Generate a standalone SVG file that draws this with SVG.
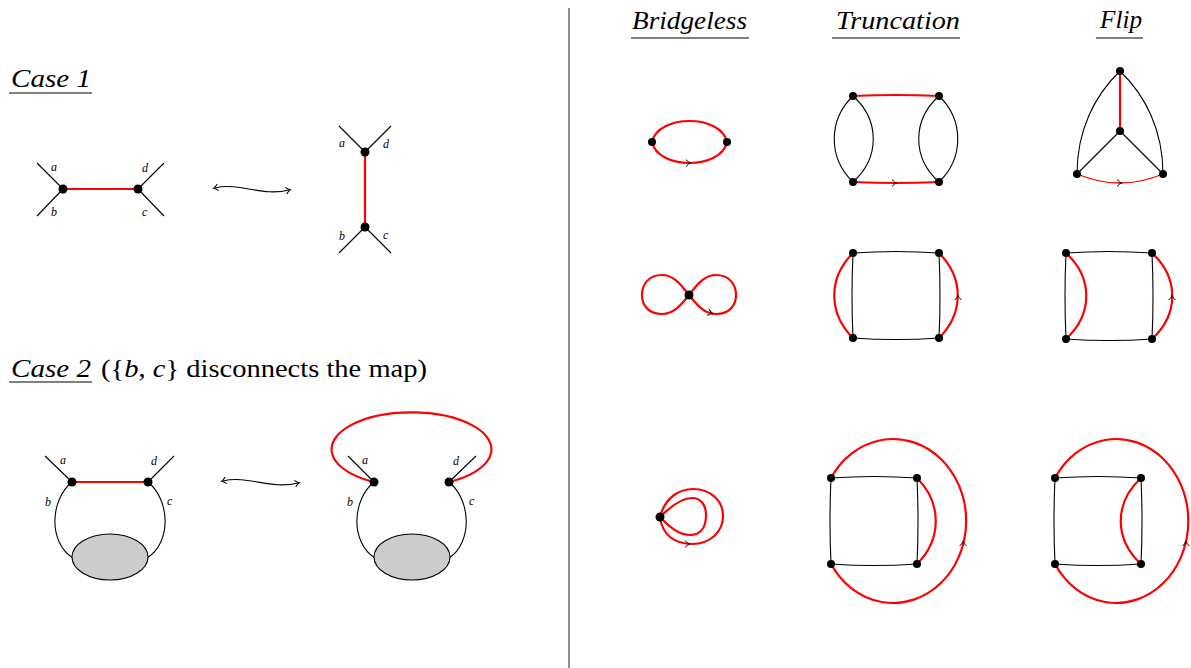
<svg xmlns="http://www.w3.org/2000/svg" xmlns:xlink="http://www.w3.org/1999/xlink" width="1191" height="668" viewBox="0 0 1191 668">
<style>
.k{stroke:#000;stroke-width:1.1;fill:none}
.r{stroke:#f00;stroke-width:2.2;fill:none}
.rt{stroke:#f00;stroke-width:1.3;fill:none}
.v{fill:#000}
text{font-family:'Liberation Serif','DejaVu Serif',serif;fill:#000}
.lbl{font-style:italic;font-size:12px}
.ttl{font-style:italic;font-size:26px}
.rm{font-size:25px}
.ul{stroke:#000;stroke-width:1.1}
.blob{fill:#cccccc;stroke:#000;stroke-width:1.1}
</style>
<defs>
<path id="chev" d="M-3,-3.4 Q-0.8,-0.9 1.6,0 Q-0.8,0.9 -3,3.4" style="stroke:#000;stroke-width:1;fill:none"/>
</defs>
<rect width="1191" height="668" fill="#fff"/>
<line x1="569" y1="8" x2="569" y2="668" style="stroke:#333;stroke-width:1.1"/>

<g id="titles">
<text class="ttl" x="11" y="87" textLength="80" lengthAdjust="spacingAndGlyphs">Case 1</text>
<line class="ul" x1="9" y1="93" x2="92" y2="93"/>
<text class="ttl" x="11" y="377" textLength="80" lengthAdjust="spacingAndGlyphs">Case 2</text>
<line class="ul" x1="9" y1="382" x2="92" y2="382"/>
<text class="rm" x="101" y="377" textLength="326" lengthAdjust="spacingAndGlyphs">({<tspan font-style="italic">b</tspan>, <tspan font-style="italic">c</tspan>} disconnects the map)</text>
<text class="ttl" x="632" y="29" textLength="115" lengthAdjust="spacingAndGlyphs">Bridgeless</text>
<line class="ul" x1="631" y1="38" x2="749" y2="38"/>
<text class="ttl" x="836" y="29" textLength="124" lengthAdjust="spacingAndGlyphs">Truncation</text>
<line class="ul" x1="832" y1="38" x2="960" y2="38"/>
<text class="ttl" x="1100" y="28" textLength="42" lengthAdjust="spacingAndGlyphs">Flip</text>
<line class="ul" x1="1096" y1="38" x2="1143" y2="38"/>
</g>

<g id="connectors">
<path class="k" d="M215,188 C240,182 262,197 289,190"/>
<use xlink:href="#chev" transform="translate(215,188) rotate(167)"/>
<use xlink:href="#chev" transform="translate(289,190) rotate(-12)"/>
<path class="k" d="M223,481 C248,475 270,490 298,483"/>
<use xlink:href="#chev" transform="translate(223,481) rotate(167)"/>
<use xlink:href="#chev" transform="translate(298,483) rotate(-12)"/>
</g>

<g id="case1-left">
<line class="k" x1="37" y1="163" x2="63" y2="189"/>
<line class="k" x1="37" y1="216" x2="63" y2="189"/>
<line class="k" x1="164" y1="163" x2="138" y2="189"/>
<line class="k" x1="164" y1="216" x2="138" y2="189"/>
<line class="r" x1="63" y1="189" x2="138" y2="189"/>
<circle class="v" cx="63" cy="189" r="4.5"/>
<circle class="v" cx="138" cy="189" r="4.5"/>
<text class="lbl" x="51" y="171">a</text>
<text class="lbl" x="51" y="216">b</text>
<text class="lbl" x="142" y="172">d</text>
<text class="lbl" x="142" y="216">c</text>
</g>

<g id="case1-right">
<line class="k" x1="339" y1="126" x2="365" y2="152"/>
<line class="k" x1="391" y1="126" x2="365" y2="152"/>
<line class="k" x1="339" y1="253" x2="365" y2="227"/>
<line class="k" x1="391" y1="253" x2="365" y2="227"/>
<line class="r" x1="365" y1="152" x2="365" y2="227"/>
<circle class="v" cx="365" cy="152" r="4.5"/>
<circle class="v" cx="365" cy="227" r="4.5"/>
<text class="lbl" x="339" y="147">a</text>
<text class="lbl" x="383" y="148">d</text>
<text class="lbl" x="339" y="240">b</text>
<text class="lbl" x="383" y="239">c</text>
</g>

<g id="case2-left">
<line class="k" x1="45" y1="456" x2="72" y2="482"/>
<line class="k" x1="174" y1="456" x2="148" y2="482"/>
<path class="k" d="M72,482 C50,500 48,542 73,558"/>
<path class="k" d="M148,482 C170,500 172,542 147,558"/>
<ellipse class="blob" cx="110" cy="557" rx="38" ry="23"/>
<line class="r" x1="72" y1="482" x2="148" y2="482"/>
<circle class="v" cx="72" cy="482" r="4.5"/>
<circle class="v" cx="148" cy="482" r="4.5"/>
<text class="lbl" x="60" y="464">a</text>
<text class="lbl" x="151" y="465">d</text>
<text class="lbl" x="45" y="506">b</text>
<text class="lbl" x="167" y="505">c</text>
</g>

<g id="case2-right">
<line class="k" x1="348" y1="456" x2="374" y2="482"/>
<line class="k" x1="476" y1="456" x2="449" y2="482"/>
<path class="k" d="M374,482 C352,500 350,542 375,558"/>
<path class="k" d="M449,482 C471,500 473,542 449,558"/>
<ellipse class="blob" cx="412" cy="557" rx="38" ry="23"/>
<path class="r" d="M374,482 A80,37 0 1 1 449,482"/>
<circle class="v" cx="374" cy="482" r="4.5"/>
<circle class="v" cx="449" cy="482" r="4.5"/>
<text class="lbl" x="362" y="464">a</text>
<text class="lbl" x="453" y="465">d</text>
<text class="lbl" x="347" y="506">b</text>
<text class="lbl" x="469" y="505">c</text>
</g>

<g id="bridgeless-1">
<path class="r" d="M652,142 C658,114 721,114 727,142"/>
<path class="r" d="M652,142 C658,170 721,170 727,142"/>
<use xlink:href="#chev" transform="translate(689,163)"/>
<circle class="v" cx="652" cy="142" r="4"/>
<circle class="v" cx="727" cy="142" r="4"/>
</g>

<g id="bridgeless-2">
<path class="r" d="M689,295 C681,285 674,275 662,275 C649,275 642,284 642,295 C642,306 649,314 662,314 C674,314 681,305 689,295 C697,285 704,275 716,275 C729,275 736,284 736,295 C736,306 729,314 716,314 C704,314 697,305 689,295 Z"/>
<use xlink:href="#chev" transform="translate(711,313) rotate(15)"/>
<circle class="v" cx="689" cy="295" r="4.5"/>
</g>

<g id="bridgeless-3">
<path class="r" d="M660,517 C665,497 680,489 693,489 C712,489 723,502 723,516 C723,532 710,544 692,544 C675,544 662,535 660,517"/>
<path class="r" d="M660,517 C672,505 683,498 692,498 C701,498 706,505 706,515 C706,528 700,535 690,535 C680,535 670,528 660,517"/>
<use xlink:href="#chev" transform="translate(688,544)"/>
<circle class="v" cx="660" cy="517" r="4.5"/>
</g>

<g id="truncation-1">
<path class="k" d="M853,96 C828,120 828,158 853,182"/>
<path class="k" d="M853,96 C880,120 880,158 853,182"/>
<path class="k" d="M939,96 C912,120 912,158 939,182"/>
<path class="k" d="M939,96 C964,120 964,158 939,182"/>
<path class="r" d="M853,96 Q896,94 939,96"/>
<path class="r" d="M853,182 Q896,184 939,182"/>
<use xlink:href="#chev" transform="translate(895,183)"/>
<circle class="v" cx="853" cy="96" r="4"/>
<circle class="v" cx="939" cy="96" r="4"/>
<circle class="v" cx="853" cy="182" r="4"/>
<circle class="v" cx="939" cy="182" r="4"/>
</g>

<g id="truncation-2">
<path class="k" d="M853,253 Q896,250 939,253 Q941,296 939,338 Q896,341 853,338 Q851,296 853,253 Z"/>
<path class="r" d="M853,253 C828,278 828,313 853,338"/>
<path class="r" d="M939,253 C964,278 964,313 939,338"/>
<use xlink:href="#chev" transform="translate(958,297) rotate(-90)"/>
<circle class="v" cx="853" cy="253" r="4"/>
<circle class="v" cx="939" cy="253" r="4"/>
<circle class="v" cx="853" cy="338" r="4"/>
<circle class="v" cx="939" cy="338" r="4"/>
</g>

<g id="truncation-3">
<path class="k" d="M831,478 Q874,475 917,478 Q919,521 917,564 Q874,567 831,564 Q829,521 831,478 Z"/>
<path class="r" d="M917,478 C942,503 942,539 917,564"/>
<path class="r" d="M831,478 A73,82 0 1 1 831,564"/>
<use xlink:href="#chev" transform="translate(963,543) rotate(-90)"/>
<circle class="v" cx="831" cy="478" r="4"/>
<circle class="v" cx="917" cy="478" r="4"/>
<circle class="v" cx="831" cy="564" r="4"/>
<circle class="v" cx="917" cy="564" r="4"/>
</g>

<g id="flip-1">
<path class="k" d="M1120,71 C1095,95 1077,130 1077,174"/>
<path class="k" d="M1120,71 C1145,95 1163,130 1163,174"/>
<line class="k" x1="1120" y1="131" x2="1077" y2="174"/>
<line class="k" x1="1120" y1="131" x2="1163" y2="174"/>
<line class="r" x1="1120" y1="71" x2="1120" y2="131"/>
<path class="rt" d="M1077,174 Q1120,192 1163,174"/>
<use xlink:href="#chev" transform="translate(1120,183)"/>
<circle class="v" cx="1120" cy="71" r="4"/>
<circle class="v" cx="1120" cy="131" r="4"/>
<circle class="v" cx="1077" cy="174" r="4"/>
<circle class="v" cx="1163" cy="174" r="4"/>
</g>

<g id="flip-2">
<path class="k" d="M1066,253 Q1109,250 1152,253 Q1154,296 1152,339 Q1109,342 1066,339 Q1064,296 1066,253 Z"/>
<path class="r" d="M1066,253 C1093,278 1093,314 1066,339"/>
<path class="r" d="M1152,253 C1179,278 1179,314 1152,339"/>
<use xlink:href="#chev" transform="translate(1172,297) rotate(-90)"/>
<circle class="v" cx="1066" cy="253" r="4"/>
<circle class="v" cx="1152" cy="253" r="4"/>
<circle class="v" cx="1066" cy="339" r="4"/>
<circle class="v" cx="1152" cy="339" r="4"/>
</g>

<g id="flip-3">
<path class="k" d="M1055,478 Q1098,475 1141,478 Q1143,521 1141,564 Q1098,567 1055,564 Q1053,521 1055,478 Z"/>
<path class="r" d="M1141,478 C1114,503 1114,539 1141,564"/>
<path class="r" d="M1055,478 A72,82 0 1 1 1055,564"/>
<use xlink:href="#chev" transform="translate(1186,543) rotate(-90)"/>
<circle class="v" cx="1055" cy="478" r="4"/>
<circle class="v" cx="1141" cy="478" r="4"/>
<circle class="v" cx="1055" cy="564" r="4"/>
<circle class="v" cx="1141" cy="564" r="4"/>
</g>
</svg>
